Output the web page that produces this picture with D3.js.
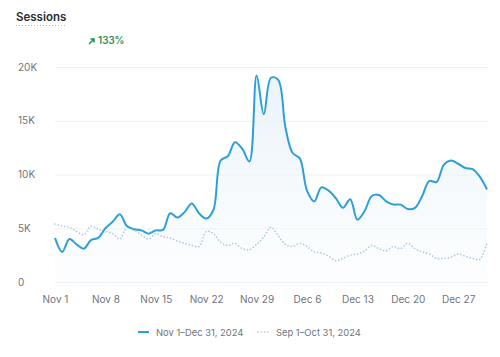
<!DOCTYPE html>
<html>
<head>
<meta charset="utf-8">
<script src="https://cdn.jsdelivr.net/npm/d3@7"></script>
<style>
  html, body { margin: 0; padding: 0; background: #fff; }
  svg { display: block; font-family: Inter, "Noto Sans", sans-serif; }
</style>
</head>
<body>
<svg id="chart" width="500" height="357"></svg>
<script>
// ---- data ----
const startDate = new Date(2024, 10, 1);   // Nov 1, 2024
const currentSessions = [
  4100, 2800, 4000, 3500, 3100, 3900, 4100, 5000, 5600, 6300,
  5200, 4900, 4800, 4500, 4800, 4850, 6400, 6000, 6500, 7300,
  6400, 5900, 6700, 11300, 11700, 13000, 12400, 11200, 19200, 15600,
  19000, 18800, 14400, 12000, 11500, 8500, 7500, 8800, 8500, 7800,
  6900, 7700, 5800, 6600, 8000, 8100, 7500, 7200, 7200, 6800,
  6900, 8000, 9400, 9300, 10900, 11300, 11000, 10600, 10500, 9800,
  8600
];
const previousSessions = [
  5400, 5200, 5100, 4700, 4400, 5200, 4900, 4700, 4500, 4000,
  5100, 4800, 4400, 4000, 4500, 4200, 4100, 3800, 3600, 3400,
  3300, 4700, 4500, 3700, 3400, 3600, 3100, 3000, 3500, 4200,
  5100, 4300, 3500, 3300, 3600, 3300, 2800, 2700, 2400, 2000,
  2200, 2500, 2600, 2900, 3400, 3100, 2900, 3300, 3100, 3600,
  3100, 2800, 2600, 2200, 2200, 2300, 2600, 2400, 2200, 2100,
  3700
];
const yTickValues = [0, 5000, 10000, 15000, 20000];
const yTickLabels = ["0", "5K", "10K", "15K", "20K"];
const xTickLabels = ["Nov 1", "Nov 8", "Nov 15", "Nov 22", "Nov 29", "Dec 6", "Dec 13", "Dec 20", "Dec 27"];
const legendLabels = ["Nov 1–Dec 31, 2024", "Sep 1–Oct 31, 2024"];
const titleText = "Sessions";
const changeText = "133%";

// ---- build ----
const dates = currentSessions.map((_, i) => d3.timeDay.offset(startDate, i));
const xTickDates = xTickLabels.map((_, i) => d3.timeDay.offset(startDate, i * 7));

const svg = d3.select("#chart");
const x = d3.scaleTime().domain([dates[0], dates[dates.length - 1]]).range([55, 487]);
const y = d3.scaleLinear().domain([0, 20000]).range([282, 67]);

const blue = "#2f9fd8";
const dotted = "#a9c8db";
const grey = "#6f747b";

// title
svg.append("text").attr("x", 16).attr("y", 21)
  .attr("font-size", 11.5).attr("font-weight", 600).attr("fill", "#2b2e33")
  .text(titleText);
svg.append("line").attr("x1", 16).attr("x2", 65).attr("y1", 25.5).attr("y2", 25.5)
  .attr("stroke", "#b5b9be").attr("stroke-width", 1).attr("stroke-dasharray", "1,2");

// change badge
const badge = svg.append("g").attr("transform", "translate(89,40)");
badge.append("path").attr("d", "M0,4 L5,-1 M1.5,-1 L5,-1 L5,2.5")
  .attr("stroke", "#1f9159").attr("stroke-width", 1.5).attr("fill", "none");
badge.append("text").attr("x", 9).attr("y", 4)
  .attr("font-size", 9.8).attr("font-weight", 600).attr("fill", "#1f9159")
  .text(changeText);

// grid + y labels
const yAxis = d3.axisLeft(y).tickValues(yTickValues)
  .tickFormat((d, i) => yTickLabels[i]).tickSize(-(488 - 55));
const gy = svg.append("g").attr("transform", "translate(55,0)").call(yAxis);
gy.select(".domain").remove();
gy.selectAll(".tick line").attr("stroke", "#eef0f2").attr("stroke-width", 1)
  .attr("x2", 488 - 55).attr("x1", 0);
gy.selectAll(".tick text").attr("x", -37).attr("text-anchor", "start")
  .attr("fill", grey).attr("font-size", 10).attr("font-family", "Inter, sans-serif");

// x axis labels
const xAxis = d3.axisBottom(x).tickValues(xTickDates)
  .tickFormat((d, i) => xTickLabels[i]).tickSize(0).tickPadding(0);
const gx = svg.append("g").attr("transform", "translate(0,296)").call(xAxis);
gx.select(".domain").remove();
gx.selectAll(".tick text").attr("fill", grey).attr("font-size", 10)
  .attr("font-family", "Inter, sans-serif").attr("dy", "0.71em").attr("y", 0);

// area gradient
const defs = svg.append("defs");
const grad = defs.append("linearGradient").attr("id", "areaGrad")
  .attr("x1", 0).attr("x2", 0).attr("y1", 0).attr("y2", 1);
grad.append("stop").attr("offset", "0%").attr("stop-color", "#e2f0f9").attr("stop-opacity", 0.75);
grad.append("stop").attr("offset", "100%").attr("stop-color", "#f4f9fc").attr("stop-opacity", 0.3);

const curve = d3.curveCatmullRom.alpha(0.5);
const area = d3.area().x((d, i) => x(dates[i])).y0(y(0)).y1(d => y(d)).curve(curve);
const line = d3.line().x((d, i) => x(dates[i])).y(d => y(d)).curve(curve);

svg.append("path").datum(currentSessions).attr("d", area).attr("fill", "url(#areaGrad)");

svg.append("path").datum(previousSessions).attr("d", line)
  .attr("fill", "none").attr("stroke", dotted).attr("stroke-width", 1.6)
  .attr("stroke-dasharray", "0.1,3.2").attr("stroke-linecap", "round");

svg.append("path").datum(currentSessions).attr("d", line)
  .attr("fill", "none").attr("stroke", blue).attr("stroke-width", 2)
  .attr("stroke-linejoin", "round");

// legend
const lg = svg.append("g").attr("transform", "translate(0,332)");
lg.append("line").attr("x1", 138).attr("x2", 149).attr("y1", 0).attr("y2", 0)
  .attr("stroke", blue).attr("stroke-width", 2);
lg.append("text").attr("x", 156).attr("y", 3.5).attr("font-size", 9.4).attr("fill", grey)
  .text(legendLabels[0]);
lg.append("line").attr("x1", 258).attr("x2", 269).attr("y1", 0).attr("y2", 0)
  .attr("stroke", dotted).attr("stroke-width", 1.6)
  .attr("stroke-dasharray", "0.1,3.2").attr("stroke-linecap", "round");
lg.append("text").attr("x", 276).attr("y", 3.5).attr("font-size", 9.4).attr("fill", grey)
  .text(legendLabels[1]);
</script>
</body>
</html>
